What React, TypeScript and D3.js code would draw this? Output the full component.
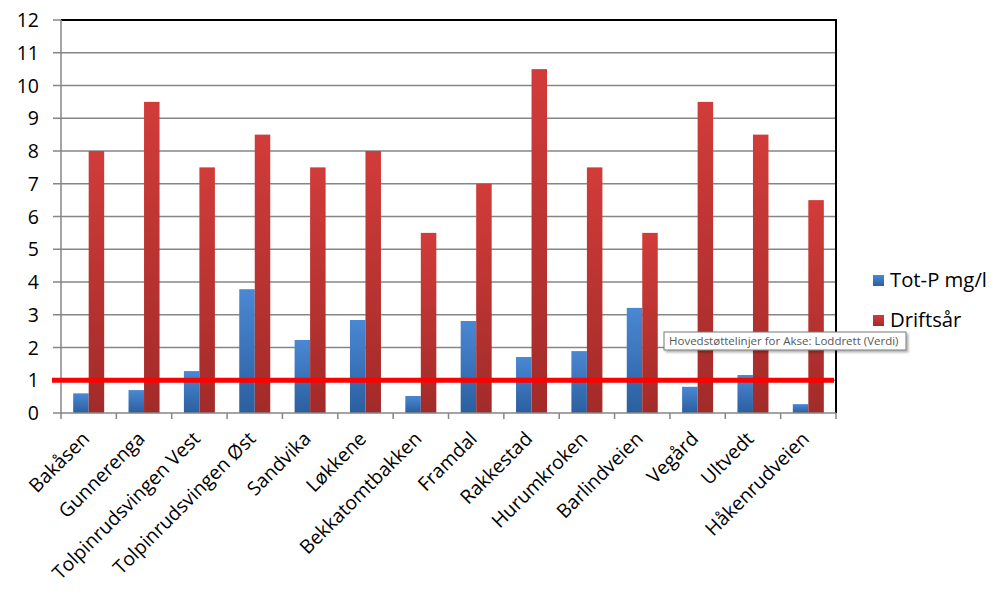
import React from "react";
import * as d3 from "d3";

const categories = [
  "Bakåsen", "Gunnerenga", "Tolpinrudsvingen Vest", "Tolpinrudsvingen Øst", "Sandvika",
  "Løkkene", "Bekkatomtbakken", "Framdal", "Rakkestad", "Hurumkroken",
  "Barlindveien", "Vegård", "Ultvedt", "Håkenrudveien",
];
const totP = [0.6, 0.7, 1.28, 3.78, 2.23, 2.84, 0.52, 2.81, 1.71, 1.89, 3.21, 0.8, 1.16, 0.27];
const driftsar = [8, 9.5, 7.5, 8.5, 7.5, 8, 5.5, 7, 10.5, 7.5, 5.5, 9.5, 8.5, 6.5];
const yTicks = [0, 1, 2, 3, 4, 5, 6, 7, 8, 9, 10, 11, 12];
const seriesNames = ["Tot-P mg/l", "Driftsår"];
const limitValue = 1;
const tooltipText = "Hovedstøttelinjer for Akse: Loddrett (Verdi)";

export default function App() {
  const W = 1008, H = 605;
  const left = 61, right = 836, top = 20, bottom = 413;
  const font = "'Open Sans', sans-serif";
  const x = d3.scaleBand<string>().domain(categories).range([left, right]).paddingInner(0).paddingOuter(0);
  const y = d3.scaleLinear().domain([0, 12]).range([bottom, top]);
  const bw = x.bandwidth();
  const barW = bw * 0.28;

  return (
    <svg width={W} height={H} style={{ position: "absolute", left: 0, top: 0, background: "#fff" }} fontFamily={font}>
      <defs>
        <linearGradient id="gBlue" x1="0" y1="0" x2="0" y2="1">
          <stop offset="0" stopColor="#4a88d4" />
          <stop offset="1" stopColor="#2b5f9f" />
        </linearGradient>
        <linearGradient id="gRed" x1="0" y1="0" x2="0" y2="1">
          <stop offset="0" stopColor="#d13c3a" />
          <stop offset="1" stopColor="#a22b29" />
        </linearGradient>
        <filter id="shadow" x="-10%" y="-10%" width="130%" height="160%">
          <feDropShadow dx="2" dy="2" stdDeviation="1.2" floodColor="#000" floodOpacity="0.3" />
        </filter>
      </defs>
      <rect x={0} y={0} width={W} height={H} fill="#fff" />
      {yTicks.filter(t => t > 0 && t < 12).map(t => (
        <line key={t} x1={left - 8} x2={right} y1={y(t)} y2={y(t)} stroke="#868686" strokeWidth={1.5} />
      ))}
      <line x1={left - 8} x2={left} y1={y(0)} y2={y(0)} stroke="#868686" strokeWidth={1.5} />
      <line x1={left - 8} x2={left} y1={y(12)} y2={y(12)} stroke="#868686" strokeWidth={1.5} />
      {categories.map((c, i) => {
        const cx = (x(c) as number) + bw / 2;
        return (
          <g key={c}>
            <rect x={cx - barW} y={y(totP[i])} width={barW} height={y(0) - y(totP[i])} fill="url(#gBlue)" />
            <rect x={cx} y={y(driftsar[i])} width={barW} height={y(0) - y(driftsar[i])} fill="url(#gRed)" />
          </g>
        );
      })}
      <line x1={left} x2={right + 1} y1={top} y2={top} stroke="#000" strokeWidth={2} />
      <line x1={right} x2={right} y1={top} y2={bottom} stroke="#000" strokeWidth={2} />
      <line x1={left} x2={left} y1={top} y2={bottom + 6} stroke="#868686" strokeWidth={1.5} />
      <line x1={left} x2={right} y1={bottom} y2={bottom} stroke="#868686" strokeWidth={1.5} />
      {categories.map((c, i) => (
        <line key={"t" + i} x1={(x(c) as number) + bw} x2={(x(c) as number) + bw} y1={bottom} y2={bottom + 6} stroke="#868686" strokeWidth={1.5} />
      ))}
      <line x1={52} x2={834} y1={y(limitValue)} y2={y(limitValue)} stroke="#ff0000" strokeWidth={5} />
      {yTicks.map(t => (
        <text key={t} x={39} y={y(t)} dy="0.36em" textAnchor="end" fontSize={19.5} fill="#000">{t}</text>
      ))}
      {categories.map(c => {
        const cx = (x(c) as number) + bw / 2 + 2;
        const ly = bottom + 27;
        return (
          <text key={c} x={cx} y={ly} textAnchor="end" fontSize={19.3} fill="#000" transform={`rotate(-45 ${cx} ${ly})`}>{c}</text>
        );
      })}
      {seriesNames.map((n, i) => (
        <g key={n}>
          <rect x={873} y={275 + i * 40} width={11} height={11} fill={i === 0 ? "url(#gBlue)" : "url(#gRed)"} />
          <text x={890} y={280 + i * 40} dy="0.36em" fontSize={20.3} fill="#000">{n}</text>
        </g>
      ))}
      <g filter="url(#shadow)">
        <rect x={664} y={332} width={242} height={18} fill="#fff" stroke="#767676" strokeWidth={1} />
      </g>
      <text x={669} y={341} dy="0.35em" fontSize={11.5} fill="#575757" fontFamily="'Segoe UI', 'Open Sans', sans-serif">{tooltipText}</text>
    </svg>
  );
}
